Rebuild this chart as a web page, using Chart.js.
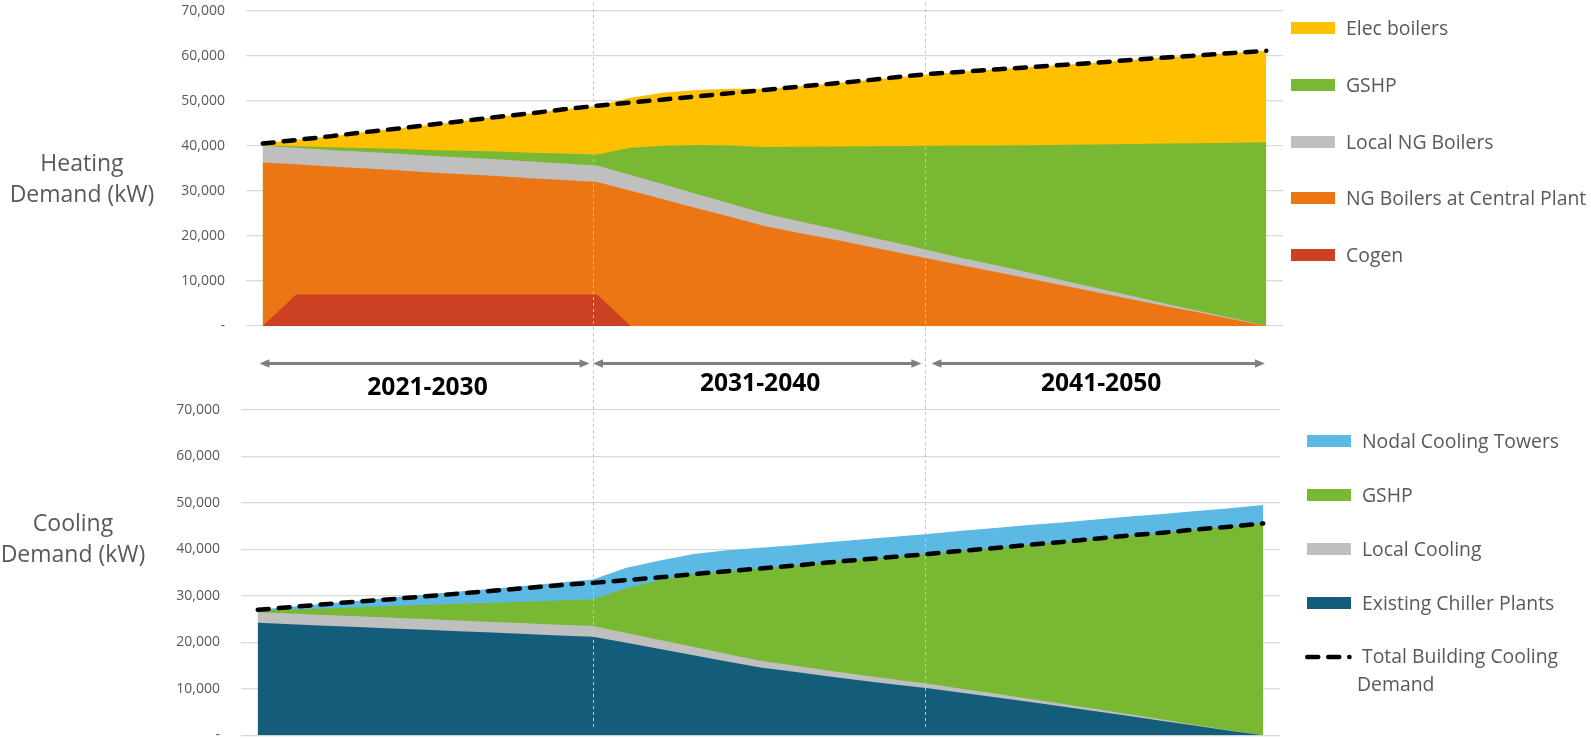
<!DOCTYPE html>
<html lang="en">
<head>
<meta charset="utf-8">
<title>Heating and Cooling Demand by Source</title>
<script src="https://cdn.jsdelivr.net/npm/chart.js@4.4.1/dist/chart.umd.min.js"></script>
<style>
html, body { margin: 0; padding: 0; background: #fff; overflow: hidden; }
body { position: relative; width: 1591px; height: 738px; font-family: 'Open Sans', sans-serif; }
canvas { position: absolute; left: 0; }
#heat { top: 0; }
#cool { top: 340px; }
.axis-title { position: absolute; transform: translateX(-50%); text-align: center; white-space: nowrap;
  font-size: 23px; line-height: 31px; color: #595959; }
.legend-item { position: absolute; display: flex; align-items: center; height: 24px;
  font-size: 19.4px; line-height: 24px; color: #595959; white-space: nowrap; }
.swatch { width: 44px; height: 12px; margin-right: 11px; flex: none; }
.legend-line { position: absolute; }
.legend-text { position: absolute; font-size: 19.4px; line-height: 28.4px; color: #595959; text-indent: 5px; white-space: nowrap; }
.period { position: absolute; transform: translateX(-50%); font-weight: 700; font-size: 24.6px; line-height: 30px;
  color: #000; white-space: nowrap; }
</style>
</head>
<body>
<canvas id="heat" width="1591" height="340"></canvas>
<canvas id="cool" width="1591" height="410"></canvas>
<div class="axis-title" style="left:82px; top:147px">Heating<br>Demand (kW)</div>
<div class="axis-title" style="left:73px; top:507px">Cooling<br>Demand (kW)</div>
<div id="legends"></div>
<div id="periods"></div>
<script>
// ---- Years on the category axis ----
const years = ['2020', '2021', '2022', '2023', '2024', '2025', '2026', '2027', '2028', '2029', '2030',
  '2031', '2032', '2033', '2034', '2035', '2036', '2037', '2038', '2039', '2040',
  '2041', '2042', '2043', '2044', '2045', '2046', '2047', '2048', '2049', '2050'];

// ---- Heating supply (kW) ----
const heatCogen = [0, 7000, 7000, 7000, 7000, 7000, 7000, 7000, 7000, 7000, 7000,
  0, 0, 0, 0, 0, 0, 0, 0, 0, 0, 0, 0, 0, 0, 0, 0, 0, 0, 0, 0];
const heatNgCentral = [36300, 28900, 28400, 28000, 27600, 27100, 26700, 26300, 25800, 25400, 24950,
  30000, 28100, 26100, 24200, 22200, 20700, 19300, 17800, 16300, 14800,
  13300, 11900, 10400, 8900, 7400, 5900, 4400, 3000, 1500, 0];
const heatLocalNg = [3700, 3700, 3700, 3700, 3700, 3700, 3700, 3700, 3700, 3700, 3700,
  3500, 3300, 3150, 2950, 2800, 2600, 2400, 2200, 2050, 1850,
  1650, 1500, 1300, 1100, 900, 750, 550, 350, 200, 0];
const heatGshp = [100, 330, 560, 800, 1030, 1260, 1500, 1730, 1960, 2200, 2450,
  6100, 8600, 10950, 12900, 14750, 16500, 18150, 19900, 21600, 23350,
  25100, 26700, 28450, 30250, 32000, 33750, 35550, 37250, 39000, 40800];
const heatElec = [400, 1400, 2400, 3500, 4500, 5600, 6600, 7700, 8700, 9800, 10800,
  11100, 11850, 12200, 12600, 12900, 13350, 14000, 14650, 15300, 15950,
  16450, 16900, 17350, 17750, 18200, 18700, 19100, 19500, 19900, 20300];
const heatTotal = [40500, 41300, 42100, 43000, 43800, 44700, 45500, 46400, 47200, 48100, 48900,
  49600, 50300, 51000, 51700, 52400, 53100, 53800, 54500, 55300, 56000,
  56500, 57000, 57500, 58000, 58500, 59100, 59600, 60100, 60600, 61100];

// ---- Cooling supply (kW) ----
const coolChiller = [24200, 23900, 23600, 23300, 23000, 22700, 22400, 22100, 21800, 21500, 21200,
  19900, 18550, 17250, 15900, 14600, 13650, 12700, 11800, 10950, 10100,
  9150, 8200, 7200, 6200, 5200, 4150, 3100, 2050, 1000, 0];
const coolLocal = [2300, 2300, 2300, 2300, 2300, 2300, 2300, 2300, 2300, 2300, 2300,
  2130, 1960, 1790, 1620, 1450, 1350, 1250, 1160, 1060, 970,
  870, 770, 680, 580, 480, 390, 290, 190, 100, 0];
const coolGshp = [300, 850, 1400, 1950, 2500, 3050, 3600, 4100, 4650, 5200, 5750,
  9600, 12900, 15650, 17800, 19850, 21500, 23250, 24850, 26400, 27950,
  29700, 31350, 33100, 34800, 36600, 38450, 40200, 42050, 43800, 45600];
const coolNodal = [200, 600, 1000, 1400, 1850, 2250, 2650, 3050, 3450, 3900, 4300,
  4450, 4200, 4350, 4500, 4450, 4400, 4350, 4350, 4300, 4300,
  4300, 4300, 4250, 4200, 4150, 4100, 4050, 4000, 3950, 3950];
const coolTotal = [27000, 27600, 28200, 28800, 29300, 29900, 30500, 31100, 31700, 32300, 32800,
  33400, 34000, 34700, 35300, 35900, 36500, 37200, 37800, 38400, 39000,
  39700, 40300, 41000, 41600, 42300, 43000, 43600, 44300, 44900, 45600];

// ---- Axis and period annotations ----
const yTicks = [0, 10000, 20000, 30000, 40000, 50000, 60000, 70000];
const periodLabels = ['2021-2030', '2031-2040', '2041-2050'];
const periodSpans = [[0.05, 9.9], [10, 19.8], [20.1, 30.05]];   // category index units
const periodDividers = [10, 19.9];

const C = {
  elec: '#FFC000', gshp: '#78B833', grey: '#BFBFBF', ngCentral: '#ED7614', cogen: '#CB4121',
  nodal: '#5BB9E3', chiller: '#135D7B', text: '#595959', grid: '#D9D9D9'
};

Chart.defaults.font.family = "'Open Sans', sans-serif";

function area(label, data, color) {
  return { label, data, backgroundColor: color, borderColor: color, borderWidth: 0, fill: 'origin',
           pointRadius: 0, stack: 'supply' };
}
function totalLine(label, data) {
  return { label, data, borderColor: '#000', borderWidth: 4.5, borderDash: [11, 10], borderCapStyle: 'round',
           fill: false, pointRadius: 0, stack: 'total', order: -1 };
}

const dividerPlugin = {
  id: 'periodDividers',
  beforeDatasetDraw(chart, args, opts) {
    if (chart.data.datasets[args.index].stack !== 'total') return;
    const xs = (opts.ref && opts.ref()) ? opts.ref().scales.x : chart.scales.x;
    const ctx = chart.ctx;
    ctx.save();
    ctx.strokeStyle = '#C4C4C4';
    ctx.lineWidth = 1;
    ctx.setLineDash([3, 3]);
    periodDividers.forEach(v => {
      const x = Math.round(xs.getPixelForValue(v)) + 0.5;
      ctx.beginPath();
      ctx.moveTo(x, opts.from);
      ctx.lineTo(x, opts.to);
      ctx.stroke();
    });
    ctx.restore();
  }
};

function drawDoubleArrow(ctx, x1, x2, y) {
  const head = 10, half = 4.2;
  ctx.save();
  ctx.strokeStyle = '#808080';
  ctx.fillStyle = '#808080';
  ctx.lineWidth = 3;
  ctx.beginPath();
  ctx.moveTo(x1 + head - 2, y);
  ctx.lineTo(x2 - head + 2, y);
  ctx.stroke();
  ctx.beginPath();
  ctx.moveTo(x1, y); ctx.lineTo(x1 + head, y - half); ctx.lineTo(x1 + head, y + half); ctx.closePath();
  ctx.fill();
  ctx.beginPath();
  ctx.moveTo(x2, y); ctx.lineTo(x2 - head, y - half); ctx.lineTo(x2 - head, y + half); ctx.closePath();
  ctx.fill();
  ctx.restore();
}

const periodArrowPlugin = {
  id: 'periodArrows',
  afterDraw(chart, args, opts) {
    const xs = chart.scales.x;
    periodSpans.forEach(([a, b]) => {
      drawDoubleArrow(chart.ctx, xs.getPixelForValue(a), xs.getPixelForValue(b), opts.y);
    });
  }
};

function makeChart(canvasId, datasets, layout, pluginOpts, extraPlugins) {
  return new Chart(document.getElementById(canvasId), {
    type: 'line',
    data: { labels: years, datasets },
    options: {
      responsive: false,
      animation: false,
      events: [],
      layout: { padding: layout.padding },
      elements: { line: { tension: 0 }, point: { radius: 0 } },
      plugins: Object.assign({ legend: { display: false }, tooltip: { enabled: false } }, pluginOpts),
      scales: {
        x: { type: 'category', offset: true, display: false, grid: { display: false } },
        y: {
          stacked: true, min: 0, max: 70000,
          afterFit(scale) { scale.width = layout.axisWidth; },
          afterBuildTicks(scale) { scale.ticks = yTicks.map(v => ({ value: v })); },
          border: { display: false },
          // invisible tick marks keep a fixed gap between the labels and the plot
          grid: { color: C.grid, lineWidth: 1.3, drawTicks: true, tickLength: 21, tickColor: 'rgba(0,0,0,0)' },
          ticks: {
            padding: 0, color: C.text, font: { size: 14 },
            callback: v => (v === 0 ? '-' : v.toLocaleString('en-US'))
          }
        }
      }
    },
    plugins: [dividerPlugin].concat(extraPlugins || [])
  });
}

const coolSeries = [
  area('Existing Chiller Plants', coolChiller, C.chiller),
  area('Local Cooling', coolLocal, C.grey),
  area('GSHP', coolGshp, C.gshp),
  area('Nodal Cooling Towers', coolNodal, C.nodal),
  totalLine('Total Building Cooling Demand', coolTotal)
];
const coolChart = makeChart('cool', coolSeries,
  { axisWidth: 241, padding: { left: 0, right: 311, top: 70, bottom: 14.7 } },
  { periodDividers: { from: 0, to: 388 }, periodArrows: { y: 23.5 } },
  [periodArrowPlugin]);

const heatSeries = [
  area('Cogen', heatCogen, C.cogen),
  area('NG Boilers at Central Plant', heatNgCentral, C.ngCentral),
  area('Local NG Boilers', heatLocalNg, C.grey),
  area('GSHP', heatGshp, C.gshp),
  area('Elec boilers', heatElec, C.elec),
  totalLine('Total Building Heating Demand', heatTotal)
];
const heatChart = makeChart('heat', heatSeries,
  { axisWidth: 246, padding: { left: 0, right: 308, top: 10.7, bottom: 14 } },
  { periodDividers: { from: 3, to: 340, ref: () => coolChart } });

// ---- Legends (top-most series first) ----
const legendRoot = document.getElementById('legends');
function addSwatchItems(series, left, firstCenter, step) {
  series.forEach((ds, i) => {
    const item = document.createElement('div');
    item.className = 'legend-item';
    item.style.left = left + 'px';
    item.style.top = (firstCenter + i * step - 12) + 'px';
    const sw = document.createElement('span');
    sw.className = 'swatch';
    sw.style.background = ds.backgroundColor;
    const tx = document.createElement('span');
    tx.textContent = ds.label;
    item.appendChild(sw);
    item.appendChild(tx);
    legendRoot.appendChild(item);
  });
}
addSwatchItems(heatSeries.filter(d => d.stack === 'supply').reverse(), 1291, 28.3, 56.6);
const coolAreas = coolSeries.filter(d => d.stack === 'supply').reverse();
addSwatchItems(coolAreas, 1307, 441.3, 53.8);

const coolTotalDs = coolSeries.find(d => d.stack === 'total');
const lineCenter = 441.3 + coolAreas.length * 53.8;
const svgNS = 'http://www.w3.org/2000/svg';
const svg = document.createElementNS(svgNS, 'svg');
svg.setAttribute('class', 'legend-line');
svg.setAttribute('width', '50');
svg.setAttribute('height', '10');
svg.style.left = '1305px';
svg.style.top = (lineCenter - 5) + 'px';
const ln = document.createElementNS(svgNS, 'line');
ln.setAttribute('x1', '2.25'); ln.setAttribute('y1', '5');
ln.setAttribute('x2', '44.5'); ln.setAttribute('y2', '5');
ln.setAttribute('stroke', '#000');
ln.setAttribute('stroke-width', '4.5');
ln.setAttribute('stroke-dasharray', '11 10');
ln.setAttribute('stroke-linecap', 'round');
svg.appendChild(ln);
legendRoot.appendChild(svg);
const lt = document.createElement('div');
lt.className = 'legend-text';
lt.style.left = '1357px';
lt.style.top = (lineCenter - 15) + 'px';
const words = coolTotalDs.label.split(' ');
lt.innerHTML = words.slice(0, -1).join(' ') + '<br>' + words[words.length - 1];
legendRoot.appendChild(lt);

// ---- Period labels under the arrows ----
const periodRoot = document.getElementById('periods');
const labelTops = [370.7, 366.7, 366.7];
const labelNudge = 3;   // labels sit slightly right of the arrow midpoints
periodSpans.forEach(([a, b], i) => {
  const xs = coolChart.scales.x;
  const cx = (xs.getPixelForValue(a) + xs.getPixelForValue(b)) / 2 + labelNudge;
  const el = document.createElement('div');
  el.className = 'period';
  el.style.left = cx + 'px';
  el.style.top = labelTops[i] + 'px';
  el.textContent = periodLabels[i];
  periodRoot.appendChild(el);
});
</script>
</body>
</html>
